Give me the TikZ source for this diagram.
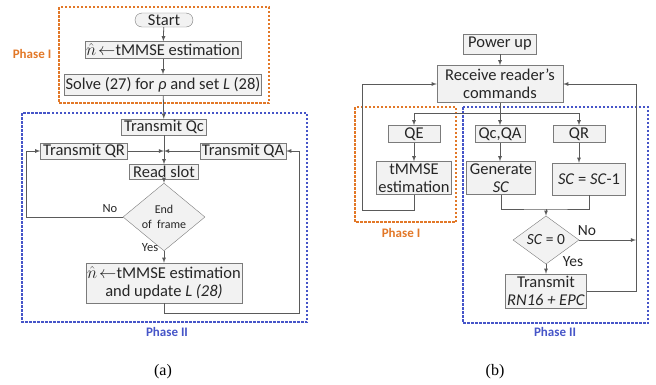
\documentclass[tikz,border=0pt]{standalone}
\usepackage{fontspec}
\setmainfont{Carlito}
\newfontfamily\capfont{Liberation Serif}
\usetikzlibrary{shapes.geometric}
\definecolor{phaseone}{RGB}{226,120,40}
\definecolor{phasetwo}{RGB}{70,85,200}
\definecolor{linegray}{RGB}{90,90,90}
\tikzset{
  box/.style={draw=linegray!80, fill=gray!10, inner sep=1pt, align=center, text=black!85,
    font=\fontsize{16.5}{18}\selectfont},
  decision/.style={diamond, draw=linegray!80, fill=gray!10, inner sep=0pt, align=center, text=black!85},
  arr/.style={-latex, draw=linegray, line width=0.8pt},
  conn/.style={draw=linegray, line width=0.8pt},
  phasebox/.style={line width=1.4pt, dash pattern=on 2.5pt off 1.5pt},
  phaselabel/.style={font=\fontsize{13}{15}\selectfont\bfseries},
  yesno/.style={font=\fontsize{12.5}{15}\selectfont, text=black!85}
}
\begin{document}
\begin{tikzpicture}[x=1pt,y=-1pt]
  \useasboundingbox (0,0) rectangle (656,384);
  % (a) reader side
  \draw[phasebox, phaseone] (59,7) rectangle (269,103);
  \draw[phasebox, phasetwo] (22,113) rectangle (307,322);
  \node[phaselabel, phaseone] (p1a) at (32,54) {Phase I};
  \node[phaselabel, phasetwo] (p2a) at (167,332) {Phase II};

  \node[box, rounded corners=7pt, minimum width=58pt, minimum height=14pt] (start) at (164,20) {Start};
  \node[box, minimum width=151pt, minimum height=17pt] (est) at (163,50) {$\hat{n}\!\leftarrow$tMMSE estimation};
  \node[box, minimum width=193pt, minimum height=21pt] (solve) at (163,85) {Solve (27) for \textit{ρ} and set \textit{L} (28)};
  \node[box, minimum width=85pt, minimum height=16pt] (qc) at (164,127) {Transmit Qc};
  \node[box, minimum width=87pt, minimum height=15pt] (qr) at (84,151) {Transmit QR};
  \node[box, minimum width=86pt, minimum height=15pt] (qa) at (243,151) {Transmit QA};
  \node[box, minimum width=69pt, minimum height=15pt] (read) at (164,172) {Read slot};
  \node[decision, minimum width=82pt, minimum height=49pt, font=\fontsize{12}{15}\selectfont] (endf) at (164,217) {End\\of\ \ frame};
  \node[box, minimum width=154pt, minimum height=40pt] (upd) at (164,283) {$\hat{n}\!\leftarrow$tMMSE estimation\\and update \textit{L (28)}};

  \draw[arr] (start) -- (est);
  \draw[arr] (est) -- (solve);
  \draw[arr] (solve) -- (qc);
  \draw[arr] (qc) -- (read);
  \draw[arr] (qr) -- (qr -| qc);
  \draw[arr] (qa) -- (qa -| qc);
  \draw[arr] (read) -- (endf);
  \draw[arr] (endf.west) -- ++(-96,0) |- (qr.west);
  \draw[arr] (endf.south) -- (upd.north);
  \draw[arr] (upd.south) -- ++(0,10) -- ++(135,0) |- (qa.east);
  \node[yesno] (noa) at (110,209) {No};
  \node[yesno] (yesa) at (150,248) {Yes};

  % (b) tag side
  \draw[phasebox, phaseone] (355,107) rectangle (456,222);
  \draw[phasebox, phasetwo] (463,107) rectangle (648,323);
  \node[phaselabel, phaseone] (p1b) at (401,233) {Phase I};
  \node[phaselabel, phasetwo] (p2b) at (555,332) {Phase II};

  \node[box, minimum width=73pt, minimum height=20pt] (pwr) at (500,44) {Power up};
  \node[box, minimum width=126pt, minimum height=37pt] (recv) at (500,84) {Receive reader’s\\commands};
  \node[box, minimum width=52pt, minimum height=17pt] (qe) at (414,134) {QE};
  \node[box, minimum width=50pt, minimum height=17pt] (qcqa) at (500,134) {Qc,QA};
  \node[box, minimum width=52pt, minimum height=17pt] (qrb) at (579,134) {QR};
  \node[box, minimum width=75pt, minimum height=33pt] (tmm) at (414,178) {tMMSE\\estimation};
  \node[box, minimum width=69pt, minimum height=33pt] (gen) at (501,178) {Generate\\\textit{SC}};
  \node[box, minimum width=73pt, minimum height=32pt] (dec) at (589,179) {\textit{SC} = \textit{SC}-1};
  \node[decision, minimum width=66pt, minimum height=38pt, font=\fontsize{15.5}{18}\selectfont] (sc0) at (546,240) {\textit{SC} = 0};
  \node[box, minimum width=81pt, minimum height=34pt] (tx) at (546,291) {Transmit\\\textit{RN16 + EPC}};

  \coordinate (br) at (500,113);
  \coordinate (mj) at (546,209);
  \coordinate (rj) at (636,240);
  \draw[arr] (pwr) -- (recv);
  \draw[conn] (recv) -- (br);
  \draw[conn] (qe |- br) -- (qrb |- br);
  \draw[arr] (qe |- br) -- (qe);
  \draw[arr] (br) -- (qcqa);
  \draw[arr] (qrb |- br) -- (qrb);
  \draw[arr] (qe) -- (tmm);
  \draw[arr] (qcqa) -- (qcqa |- gen.north);
  \draw[arr] (qrb) -- (qrb |- dec.north);
  \draw[arr] (tmm.south) -- ++(0,16) -- ++(-52,0) |- (recv.west);
  \draw[conn] (gen.south) |- (mj) -| (dec.south);
  \draw[arr] (mj) -- (sc0.north);
  \draw[arr] (sc0.east) -- (rj);
  \draw[arr] (sc0.south) -- (tx.north);
  \draw[arr] (tx.east) -- (tx.east -| rj) |- (recv.east);
  \node[yesno, font=\fontsize{15.5}{18}\selectfont] (nob) at (587,231) {No};
  \node[yesno, font=\fontsize{15.5}{18}\selectfont] (yesb) at (573,262) {Yes};

  \node[font=\capfont\fontsize{16}{18}\selectfont] (capa) at (163,372) {(a)};
  \node[font=\capfont\fontsize{16}{18}\selectfont] (capb) at (495,372) {(b)};
\end{tikzpicture}
\end{document}
